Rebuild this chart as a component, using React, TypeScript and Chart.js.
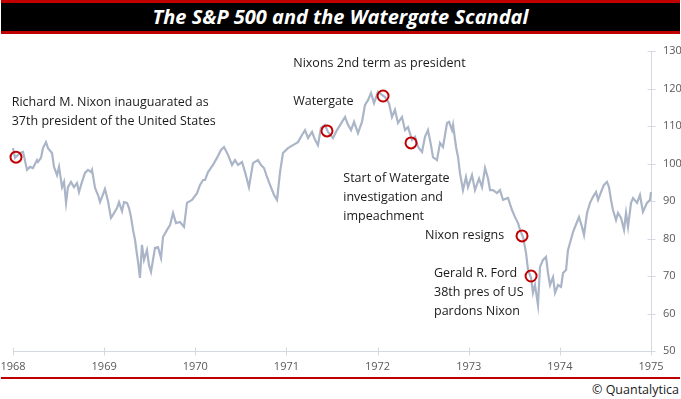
import React, { useEffect, useRef } from "react";
import { Chart, registerables } from "chart.js";

Chart.register(...registerables);

// ---- Data ----
const X_TICKS = [1968, 1969, 1970, 1971, 1972, 1973, 1974, 1975];
const Y_TICKS = [50, 60, 70, 80, 90, 100, 110, 120, 130];

const DATES = [
  1968.0, 1968.022, 1968.077, 1968.11, 1968.154, 1968.187, 1968.219, 1968.263, 1968.274, 1968.307,
  1968.329, 1968.362, 1968.384, 1968.428, 1968.45, 1968.483, 1968.505, 1968.538, 1968.56, 1968.582,
  1968.603, 1968.636, 1968.669, 1968.702, 1968.724, 1968.757, 1968.79, 1968.823, 1968.856, 1968.867,
  1968.9, 1968.933, 1968.955, 1968.977, 1969.009, 1969.042, 1969.075, 1969.097, 1969.141, 1969.163,
  1969.196, 1969.218, 1969.251, 1969.273, 1969.295, 1969.317, 1969.339, 1969.361, 1969.372, 1969.393,
  1969.415, 1969.437, 1969.47, 1969.492, 1969.514, 1969.536, 1969.558, 1969.591, 1969.624, 1969.646,
  1969.69, 1969.723, 1969.756, 1969.788, 1969.832, 1969.876, 1969.909, 1969.964, 1970.019, 1970.052,
  1970.085, 1970.107, 1970.14, 1970.194, 1970.238, 1970.282, 1970.315, 1970.359, 1970.403, 1970.436,
  1970.469, 1970.513, 1970.546, 1970.589, 1970.633, 1970.688, 1970.721, 1970.754, 1970.787, 1970.82,
  1970.864, 1970.897, 1970.93, 1970.962, 1971.017, 1971.072, 1971.127, 1971.171, 1971.204, 1971.237,
  1971.281, 1971.314, 1971.346, 1971.379, 1971.423, 1971.456, 1971.511, 1971.555, 1971.61, 1971.643,
  1971.676, 1971.709, 1971.742, 1971.785, 1971.829, 1971.862, 1971.895, 1971.928, 1971.961, 1972.005,
  1972.049, 1972.082, 1972.125, 1972.158, 1972.191, 1972.224, 1972.268, 1972.301, 1972.334, 1972.378,
  1972.411, 1972.444, 1972.488, 1972.52, 1972.553, 1972.586, 1972.608, 1972.652, 1972.685, 1972.718,
  1972.762, 1972.784, 1972.817, 1972.828, 1972.861, 1972.883, 1972.904, 1972.937, 1972.97, 1972.992,
  1973.036, 1973.069, 1973.113, 1973.146, 1973.179, 1973.212, 1973.234, 1973.267, 1973.31, 1973.343,
  1973.376, 1973.431, 1973.475, 1973.508, 1973.541, 1973.563, 1973.596, 1973.629, 1973.651, 1973.684,
  1973.705, 1973.727, 1973.76, 1973.782, 1973.815, 1973.848, 1973.87, 1973.892, 1973.925, 1973.947,
  1973.98, 1974.013, 1974.035, 1974.068, 1974.089, 1974.111, 1974.144, 1974.188, 1974.21, 1974.243,
  1974.265, 1974.298, 1974.331, 1974.364, 1974.397, 1974.419, 1974.452, 1974.484, 1974.517, 1974.539,
  1974.561, 1974.583, 1974.616, 1974.638, 1974.671, 1974.704, 1974.726, 1974.748, 1974.781, 1974.803,
  1974.847, 1974.879, 1974.912, 1974.956, 1974.989, 1975.0,
];

const SP500 = [
  104.1, 101.5, 102.8, 103.1, 98.3, 99.1, 98.8, 100.9, 100.4, 101.5,
  104.1, 105.7, 104.1, 102.8, 99.1, 96.9, 99.1, 93.7, 95.1, 89.5,
  93.7, 95.1, 93.7, 94.8, 92.4, 95.1, 97.5, 98.3, 97.7, 98.3,
  93.5, 91.6, 89.7, 91.1, 93.2, 90.0, 85.5, 86.3, 88.1, 89.7,
  87.3, 89.7, 89.5, 88.1, 85.7, 82.3, 79.6, 75.6, 73.7, 69.5,
  78.3, 74.3, 76.9, 72.9, 71.1, 74.3, 77.5, 77.7, 74.8, 80.4,
  82.3, 83.6, 86.8, 84.1, 84.4, 83.1, 89.5, 90.3, 92.1, 94.3,
  95.6, 95.6, 97.7, 99.6, 101.5, 103.6, 104.4, 102.3, 99.6, 100.9,
  99.6, 100.4, 97.7, 93.7, 100.1, 100.9, 99.6, 98.8, 96.4, 94.3,
  91.6, 90.3, 97.7, 102.8, 104.1, 104.9, 105.7, 107.6, 108.9, 106.8,
  108.4, 106.3, 104.9, 109.5, 110.3, 108.4, 106.8, 108.9, 111.1, 112.4,
  110.3, 108.9, 111.1, 108.1, 111.1, 115.6, 116.9, 118.8, 116.1, 119.1,
  118.3, 117.7, 116.1, 112.4, 114.3, 110.8, 112.4, 108.9, 109.7, 106.3,
  107.1, 104.4, 103.1, 107.1, 108.9, 104.9, 101.7, 100.9, 105.5, 104.4,
  110.8, 111.1, 108.9, 110.3, 104.4, 101.7, 97.5, 92.9, 96.4, 93.7,
  96.9, 92.9, 96.0, 93.7, 98.8, 96.0, 92.9, 92.9, 92.1, 92.9,
  90.3, 90.8, 87.6, 85.7, 84.1, 82.3, 80.4, 76.1, 71.6, 69.5,
  65.5, 67.6, 62.3, 72.4, 74.3, 75.1, 70.8, 67.6, 69.7, 65.5,
  67.6, 67.1, 70.8, 71.6, 76.9, 78.8, 81.7, 84.4, 85.7, 83.1,
  80.9, 86.8, 89.5, 91.1, 92.4, 90.3, 92.4, 94.3, 95.1, 93.7,
  90.3, 87.6, 84.9, 86.8, 85.5, 82.3, 86.8, 83.1, 89.5, 90.8,
  89.5, 91.6, 87.1, 89.5, 90.3, 92.4,
];

// Highlighted events (red circles)
const EVENT_DATES = [1968.033, 1971.445, 1972.06, 1972.367, 1973.585, 1973.684];
const EVENT_VALUES = [101.7, 108.7, 118.0, 105.5, 80.7, 70.0];

// Annotation texts, anchored (left, first baseline) in data coordinates
const NOTE_TEXTS: string[][] = [
  ["Richard M. Nixon inauguarated as", "37th president of the United States"],
  ["Nixons 2nd term as president"],
  ["Watergate"],
  ["Start of Watergate", "investigation and", "impeachment"],
  ["Nixon resigns"],
  ["Gerald R. Ford", "38th pres of US", "pardons Nixon"],
];
const NOTE_DATES = [1967.986, 1971.075, 1971.075, 1971.624, 1972.52, 1972.619];
const NOTE_VALUES = [115.3, 125.7, 115.6, 95.1, 79.9, 69.7];

const TITLE = "The S&P 500 and the Watergate Scandal";
const CREDIT = "© Quantalytica";

const AXIS_COLOR = "#d3d8e2";
const LABEL_COLOR = "#595959";
const RED = "#c00000";
const FONT = '"Open Sans", "Noto Sans", sans-serif';

const axisPlugin = {
  id: "crossAxes",
  beforeDatasetsDraw(chart: any) {
    const { ctx, chartArea, scales } = chart;
    const xs = scales.x;
    const ys = scales.y;
    ctx.save();
    ctx.strokeStyle = AXIS_COLOR;
    ctx.lineWidth = 1;
    const by = Math.round(chartArea.bottom) + 0.5;
    const rx = Math.round(chartArea.right) + 0.5;
    ctx.beginPath();
    ctx.moveTo(chartArea.left, by);
    ctx.lineTo(chartArea.right, by);
    X_TICKS.forEach((t) => {
      const px = Math.round(xs.getPixelForValue(t)) + 0.5;
      ctx.moveTo(px, by - 4);
      ctx.lineTo(px, by + 4);
    });
    ctx.moveTo(rx, chartArea.top);
    ctx.lineTo(rx, chartArea.bottom);
    Y_TICKS.forEach((v) => {
      const py = Math.round(ys.getPixelForValue(v)) + 0.5;
      ctx.moveTo(rx - 4, py);
      ctx.lineTo(rx + 4, py);
    });
    ctx.stroke();
    ctx.restore();
  },
};

const notesPlugin = {
  id: "notes",
  afterDatasetsDraw(chart: any) {
    const { ctx, scales } = chart;
    ctx.save();
    ctx.font = `12.5px ${FONT}`;
    ctx.fillStyle = "#1a1a1a";
    ctx.textAlign = "left";
    ctx.textBaseline = "alphabetic";
    NOTE_TEXTS.forEach((lines, i) => {
      const x = scales.x.getPixelForValue(NOTE_DATES[i]);
      const y = scales.y.getPixelForValue(NOTE_VALUES[i]);
      lines.forEach((line, j) => ctx.fillText(line, x, y + j * 19));
    });
    ctx.restore();
  },
};

export default function App() {
  const ref = useRef<HTMLCanvasElement | null>(null);

  useEffect(() => {
    document.body.style.margin = "0";
    const canvas = ref.current;
    if (!canvas) return;
    const series = DATES.map((d, i) => ({ x: d, y: SP500[i] }));
    const events = EVENT_DATES.map((d, i) => ({ x: d, y: EVENT_VALUES[i] }));
    const chart = new Chart(canvas, {
      type: "line",
      data: {
        datasets: [
          {
            type: "scatter",
            data: events,
            pointRadius: 5.5,
            pointBorderWidth: 2,
            pointBorderColor: RED,
            pointBackgroundColor: "rgba(0,0,0,0)",
            showLine: false,
            clip: false,
            order: 0,
          } as any,
          {
            data: series,
            borderColor: "#abb5c8",
            borderWidth: 2.2,
            pointRadius: 0,
            tension: 0,
            fill: false,
            clip: 4,
            order: 1,
          } as any,
        ],
      },
      options: {
        animation: false,
        responsive: false,
        maintainAspectRatio: false,
        layout: { padding: { left: 13, top: 17, right: 0, bottom: 0 } },
        plugins: { legend: { display: false }, tooltip: { enabled: false }, title: { display: false } },
        scales: {
          x: {
            type: "linear",
            min: 1968,
            max: 1975,
            afterBuildTicks: (s: any) => {
              s.ticks = X_TICKS.map((v) => ({ value: v }));
            },
            afterFit: (s: any) => {
              s.height = 25;
              s.paddingLeft = 0;
              s.paddingRight = 0;
            },
            grid: { display: false, drawTicks: false },
            border: { display: false },
            ticks: {
              color: LABEL_COLOR,
              font: { family: FONT, size: 11 },
              padding: 9,
              maxRotation: 0,
              autoSkip: false,
              callback: (v: any) => String(v),
            },
          },
          y: {
            position: "right",
            min: 50,
            max: 130,
            afterBuildTicks: (s: any) => {
              s.ticks = Y_TICKS.map((v) => ({ value: v }));
            },
            afterFit: (s: any) => {
              s.width = 30;
              s.paddingTop = 0;
              s.paddingBottom = 0;
            },
            grid: { display: false, drawTicks: false },
            border: { display: false },
            ticks: {
              color: LABEL_COLOR,
              font: { family: FONT, size: 11 },
              padding: 12,
              callback: (v: any) => String(v),
            },
          },
        },
      },
      plugins: [axisPlugin, notesPlugin],
    });
    return () => chart.destroy();
  }, []);

  return (
    <div
      style={{
        position: "absolute",
        left: 0,
        top: 0,
        width: 681,
        height: 399,
        background: "#ffffff",
        overflow: "hidden",
      }}
    >
      <div
        style={{
          position: "absolute",
          left: 1,
          top: 0,
          width: 679,
          height: 28,
          borderTop: `3px solid ${RED}`,
          borderBottom: `3px solid ${RED}`,
          background: "#000000",
          color: "#ffffff",
          fontFamily: FONT,
          fontWeight: 700,
          fontStyle: "italic",
          fontSize: 20,
          lineHeight: "28px",
          textAlign: "center",
          whiteSpace: "nowrap",
        }}
      >
        {TITLE}
      </div>
      <canvas
        ref={ref}
        width={681}
        height={342}
        style={{ position: "absolute", left: 0, top: 34, width: 681, height: 342 }}
      />
      <div
        style={{
          position: "absolute",
          left: 1,
          top: 377,
          width: 679,
          height: 2,
          background: RED,
        }}
      />
      <div
        style={{
          position: "absolute",
          right: 2,
          top: 382,
          fontFamily: FONT,
          fontSize: 12.5,
          lineHeight: "16px",
          color: "#1a1a1a",
          whiteSpace: "nowrap",
        }}
      >
        {CREDIT}
      </div>
    </div>
  );
}
